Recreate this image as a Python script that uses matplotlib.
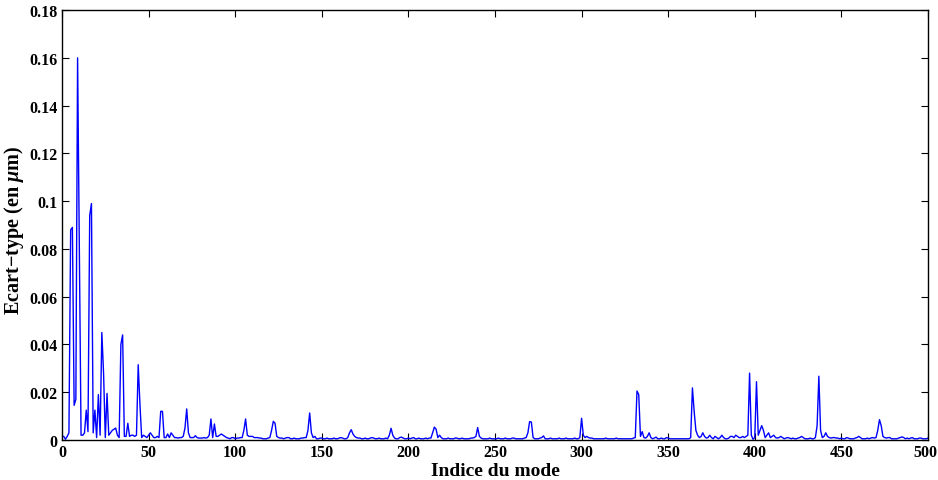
import numpy as np
import matplotlib.pyplot as plt
from matplotlib.transforms import ScaledTranslation

plt.rcParams['font.family'] = ['Liberation Serif', 'DejaVu Serif']
plt.rcParams['font.weight'] = 'bold'
plt.rcParams['mathtext.fontset'] = 'custom'
plt.rcParams['mathtext.it'] = 'Liberation Serif:italic:bold'
plt.rcParams['mathtext.rm'] = 'Liberation Serif:bold'

# ecart-type par mode, en 1e-3 um (modes 1..500)
ecart_1_150 = [
    1.5, 0.3, 1.5, 3, 88, 89, 14.5, 17, 160, 80, 2, 2, 3, 12.5, 3.5, 94, 99, 3, 12.5, 1, 19, 2, 45, 28, 1,
    19.5, 2, 3, 4, 4.5, 5, 2, 1, 40, 44, 1.5, 1.5, 7, 1.5, 2, 2, 1.5, 2, 31.5, 15, 1, 2, 1.5, 1, 2,
    3, 2, 1, 1, 1.5, 1, 12, 12, 1, 1, 2.5, 1, 3, 2, 1, 1, 0.8, 1, 1, 1.5, 5, 13, 3, 1, 1,
    1, 1.8, 1, 0.8, 0.8, 0.8, 1, 0.8, 1, 2, 8.8, 1, 6.7, 1.5, 1.5, 2, 2.5, 2, 1.5, 1, 0.8, 0.5, 1, 1, 0.5,
    0.8, 0.8, 1, 1, 4, 8.8, 2, 1.5, 1.5, 1.5, 1, 1, 1, 0.8, 0.8, 0.5, 0.5, 0.5, 0.8, 1, 4, 7.8, 7, 1.5, 1,
    0.8, 0.8, 0.5, 0.8, 1, 1, 0.5, 0.5, 0.8, 0.5, 0.5, 0.5, 0.8, 0.8, 1, 1, 4, 11.3, 3, 1, 1.5, 0.5, 0.5, 0.8, 0.8,
]
ecart_151_300 = [
    0.5, 0.5, 0.8, 0.5, 0.5, 0.5, 0.8, 0.5, 0.5, 0.8, 1, 0.8, 0.5, 0.5, 1, 3, 4.3, 2.5, 1.5, 1, 0.8, 0.8, 0.5, 0.5, 0.8,
    0.5, 0.5, 0.8, 1, 0.8, 0.5, 0.5, 0.8, 0.5, 0.5, 0.5, 0.8, 0.5, 2, 4.9, 2, 0.8, 0.5, 0.5, 1, 1.2, 0.8, 0.5, 0.5, 0.8,
    0.5, 0.8, 1, 0.5, 0.5, 0.8, 0.5, 0.5, 0.5, 0.8, 0.5, 0.8, 0.8, 3, 5.4, 4.5, 1, 2, 1, 0.5, 0.5, 0.5, 0.8, 0.5, 0.5,
    0.5, 0.8, 0.8, 0.5, 0.5, 0.8, 0.5, 0.5, 0.5, 0.5, 0.8, 0.8, 1, 1.5, 5.2, 1.5, 0.8, 0.5, 0.5, 0.5, 0.5, 0.8, 0.5, 0.5, 0.5,
    0.5, 0.8, 0.5, 0.5, 0.5, 0.8, 0.5, 0.5, 0.5, 0.8, 0.8, 0.5, 0.5, 0.5, 0.5, 0.5, 0.8, 1, 3, 7.7, 7.5, 1, 0.5, 0.5, 0.5,
    0.8, 1, 1.7, 0.5, 0.5, 0.5, 0.8, 0.5, 0.5, 0.5, 0.5, 0.8, 0.5, 0.5, 0.5, 0.8, 0.5, 0.5, 0.5, 0.5, 0.8, 0.5, 0.5, 1, 9.1,
]
ecart_301_500 = [
    2, 1, 1.5, 1, 0.8, 0.8, 0.5, 0.5, 0.5, 0.5, 0.5, 0.5, 0.5, 0.8, 0.5, 0.5, 0.5, 0.5, 0.5, 0.8, 0.5, 0.5, 0.5, 0.5, 0.5,
    0.5, 0.5, 0.5, 0.5, 0.8, 1, 20.5, 19, 1.5, 3.5, 1, 0.8, 1.5, 3, 1, 0.5, 0.8, 1.2, 0.5, 0.5, 0.8, 0.5, 0.5, 1, 0.8,
    0.5, 0.5, 0.5, 0.5, 0.5, 0.5, 0.5, 0.5, 0.5, 0.5, 0.5, 0.5, 1, 21.8, 12, 4, 2, 1, 1.5, 3, 1.5, 0.8, 1, 2, 1,
    0.5, 1.5, 1, 0.5, 1, 2, 1, 0.5, 0.5, 0.8, 1.5, 1.5, 1, 2, 1.5, 1, 1, 1.5, 1, 1.5, 2, 28, 2, 0.3, 1,
    24.4, 2, 4, 6, 4, 1, 2, 3, 1, 1.5, 2, 1, 0.8, 1, 1.5, 1, 0.5, 0.8, 1, 0.8, 0.5, 0.8, 0.5, 0.5, 0.8,
    1, 1.5, 1, 0.5, 0.5, 0.5, 0.8, 0.5, 0.5, 1, 6, 26.7, 4, 1, 1.5, 3, 1.5, 1, 0.8, 1, 1, 0.8, 0.8, 0.5, 0.8,
    0.5, 0.5, 1, 0.8, 0.5, 0.5, 0.5, 0.8, 1, 1.5, 1, 0.5, 0.5, 0.5, 0.8, 0.5, 0.8, 1, 0.8, 1, 4, 8.5, 6, 1.5, 1,
    0.8, 1, 1, 0.5, 0.5, 0.5, 0.5, 0.8, 1, 1.3, 1, 0.5, 0.8, 0.5, 0.8, 1, 0.5, 0.5, 0.5, 0.8, 0.8, 0.5, 0.5, 0.5, 0.8,
]

x_ticks = [0, 50, 100, 150, 200, 250, 300, 350, 400, 450, 500]
y_ticks = [0, 0.02, 0.04, 0.06, 0.08, 0.1, 0.12, 0.14, 0.16, 0.18]
y_labels = ['0', '0.02', '0.04', '0.06', '0.08', '0.1', '0.12', '0.14', '0.16', '0.18']

ecart = np.array(ecart_1_150 + ecart_151_300 + ecart_301_500) * 1e-3
modes = np.arange(1, len(ecart) + 1)

fig = plt.figure(figsize=(9.38, 4.81), dpi=100)
ax = fig.add_axes([0.0661, 0.0832, 0.9232, 0.8938])
ax.plot(modes, ecart, color='blue', lw=1.0)

ax.set_xlim(0, 500)
ax.set_ylim(0, 0.18)
ax.set_xticks(x_ticks)
ax.set_yticks(y_ticks)
ax.set_yticklabels(y_labels)
ax.tick_params(direction='in', top=True, right=True, length=5, width=0.8,
               labelsize=11.5, pad=3)
for s in ax.spines.values():
    s.set_linewidth(1.0)

# le dernier label touche le bord droit : petit decalage
last = ax.get_xticklabels()[-1]
last.set_transform(last.get_transform() + ScaledTranslation(-0.03, 0, fig.dpi_scale_trans))

ax.set_xlabel('Indice du mode', fontsize=14, fontweight='bold', labelpad=1)
ax.set_ylabel('Ecart\u2212type (en $\\mu$m)', fontsize=14.5, fontweight='bold')
ax.yaxis.set_label_coords(-0.042, 0.49)

fig.savefig('out.png', dpi=100)
